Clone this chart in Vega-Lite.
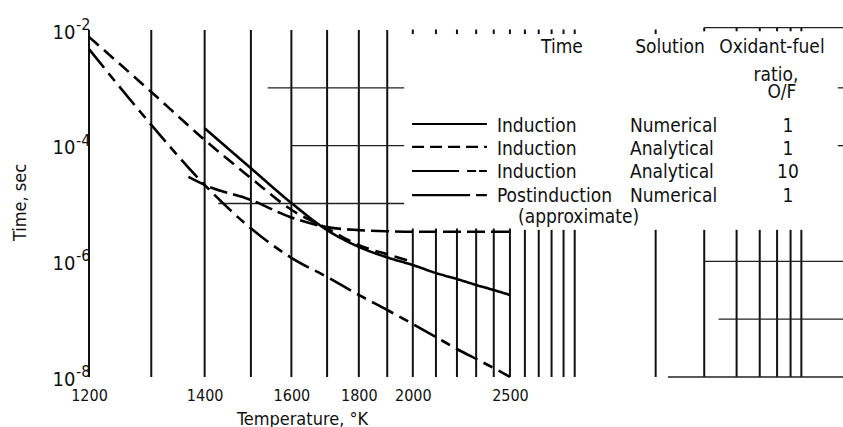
{
  "$schema": "https://vega.github.io/schema/vega-lite/v6.json",
  "width": 754,
  "height": 347,
  "autosize": {"type": "none"},
  "padding": {"left": 89, "top": 30, "right": 0, "bottom": 50},
  "background": "white",
  "config": {
    "view": {"stroke": null},
    "font": "DejaVu Sans Condensed",
    "axis": {"grid": false, "domain": false, "ticks": false, "labelColor": "#111", "titleColor": "#111", "titleFontWeight": "normal"}
  },
  "datasets": {
    "vgrid": [
      {"T": 1200, "t1": 1e-8, "t2": 1e-2}, {"T": 1300, "t1": 1e-8, "t2": 1e-2},
      {"T": 1400, "t1": 1e-8, "t2": 1e-2}, {"T": 1500, "t1": 1e-8, "t2": 1e-2},
      {"T": 1600, "t1": 1e-8, "t2": 1e-2}, {"T": 1700, "t1": 1e-8, "t2": 1e-2},
      {"T": 1800, "t1": 1e-8, "t2": 1e-2}, {"T": 1900, "t1": 1e-8, "t2": 1e-2},
      {"T": 2000, "t1": 1e-8, "t2": 3.7e-6}, {"T": 2100, "t1": 1e-8, "t2": 3.7e-6},
      {"T": 2200, "t1": 1e-8, "t2": 3.7e-6}, {"T": 2300, "t1": 1e-8, "t2": 3.7e-6},
      {"T": 2400, "t1": 1e-8, "t2": 3.7e-6}, {"T": 2500, "t1": 1e-8, "t2": 3.7e-6},
      {"T": 2600, "t1": 1e-8, "t2": 3.5e-6}, {"T": 2700, "t1": 1e-8, "t2": 3.5e-6},
      {"T": 2800, "t1": 1e-8, "t2": 3.5e-6}, {"T": 2900, "t1": 1e-8, "t2": 3.5e-6},
      {"T": 3000, "t1": 1e-8, "t2": 3.5e-6},
      {"T": 4000, "t1": 1e-8, "t2": 3.5e-6}, {"T": 5000, "t1": 1e-8, "t2": 3.5e-6},
      {"T": 6000, "t1": 1e-8, "t2": 3.5e-6}, {"T": 7000, "t1": 1e-8, "t2": 3.5e-6},
      {"T": 8000, "t1": 1e-8, "t2": 3.5e-6}, {"T": 9000, "t1": 1e-8, "t2": 3.5e-6},
      {"T": 10000, "t1": 1e-8, "t2": 3.5e-6},
      {"T": 2000, "t1": 8.5e-3, "t2": 1.02e-2}, {"T": 2100, "t1": 8.5e-3, "t2": 1.02e-2},
      {"T": 2200, "t1": 8.5e-3, "t2": 1.02e-2}, {"T": 2300, "t1": 8.5e-3, "t2": 1.02e-2},
      {"T": 2400, "t1": 8.5e-3, "t2": 1.02e-2}, {"T": 2500, "t1": 8.5e-3, "t2": 1.02e-2},
      {"T": 2600, "t1": 8.5e-3, "t2": 1.02e-2}, {"T": 2700, "t1": 8.5e-3, "t2": 1.02e-2},
      {"T": 2800, "t1": 8.5e-3, "t2": 1.02e-2}, {"T": 2900, "t1": 8.5e-3, "t2": 1.02e-2},
      {"T": 3000, "t1": 8.5e-3, "t2": 1.02e-2}, {"T": 4000, "t1": 8.5e-3, "t2": 1.02e-2},
      {"T": 5000, "t1": 9.5e-3, "t2": 1.1e-2}, {"T": 6000, "t1": 9.5e-3, "t2": 1.1e-2},
      {"T": 7000, "t1": 9.5e-3, "t2": 1.1e-2}, {"T": 8000, "t1": 9.5e-3, "t2": 1.1e-2},
      {"T": 9000, "t1": 9.5e-3, "t2": 1.1e-2}, {"T": 10000, "t1": 9.5e-3, "t2": 1.1e-2}
    ],
    "hgrid": [
      {"t": 1e-3, "T1": 1540, "T2": 1965}, {"t": 1e-3, "T1": 16000, "T2": 17500},
      {"t": 1e-4, "T1": 1600, "T2": 1965}, {"t": 1e-4, "T1": 16000, "T2": 17500},
      {"t": 1e-5, "T1": 1428, "T2": 1965},
      {"t": 1e-6, "T1": 5000, "T2": 17500},
      {"t": 1e-7, "T1": 5400, "T2": 17500},
      {"t": 1e-8, "T1": 4213, "T2": 17500},
      {"t": 1.1e-2, "T1": 5000, "T2": 17500}
    ],
    "curves": [
      {"series": "Induction Numerical 1", "T": 1400, "t": 2.0e-4},
      {"series": "Induction Numerical 1", "T": 1500, "t": 4.07e-5},
      {"series": "Induction Numerical 1", "T": 1600, "t": 1.02e-5},
      {"series": "Induction Numerical 1", "T": 1700, "t": 3.47e-6},
      {"series": "Induction Numerical 1", "T": 1800, "t": 1.78e-6},
      {"series": "Induction Numerical 1", "T": 1900, "t": 1.17e-6},
      {"series": "Induction Numerical 1", "T": 2000, "t": 8.63e-7},
      {"series": "Induction Numerical 1", "T": 2100, "t": 6.28e-7},
      {"series": "Induction Numerical 1", "T": 2200, "t": 4.94e-7},
      {"series": "Induction Numerical 1", "T": 2300, "t": 3.9e-7},
      {"series": "Induction Numerical 1", "T": 2400, "t": 3.19e-7},
      {"series": "Induction Numerical 1", "T": 2500, "t": 2.62e-7},
      {"series": "Induction Analytical 1", "T": 1200, "t": 7.6e-3},
      {"series": "Induction Analytical 1", "T": 1300, "t": 8.5e-4},
      {"series": "Induction Analytical 1", "T": 1400, "t": 1.26e-4},
      {"series": "Induction Analytical 1", "T": 1500, "t": 2.75e-5},
      {"series": "Induction Analytical 1", "T": 1600, "t": 7.8e-6},
      {"series": "Induction Analytical 1", "T": 1700, "t": 3.7e-6},
      {"series": "Induction Analytical 1", "T": 1800, "t": 1.9e-6},
      {"series": "Induction Analytical 1", "T": 1900, "t": 1.32e-6},
      {"series": "Induction Analytical 1", "T": 2000, "t": 9.8e-7},
      {"series": "Induction Analytical 10", "T": 1200, "t": 4.68e-3},
      {"series": "Induction Analytical 10", "T": 1300, "t": 2.29e-4},
      {"series": "Induction Analytical 10", "T": 1400, "t": 2.09e-5},
      {"series": "Induction Analytical 10", "T": 1500, "t": 3.72e-6},
      {"series": "Induction Analytical 10", "T": 1600, "t": 1.15e-6},
      {"series": "Induction Analytical 10", "T": 1700, "t": 5.36e-7},
      {"series": "Induction Analytical 10", "T": 1800, "t": 2.62e-7},
      {"series": "Induction Analytical 10", "T": 1900, "t": 1.44e-7},
      {"series": "Induction Analytical 10", "T": 2000, "t": 8.24e-8},
      {"series": "Induction Analytical 10", "T": 2100, "t": 4.91e-8},
      {"series": "Induction Analytical 10", "T": 2200, "t": 3.05e-8},
      {"series": "Induction Analytical 10", "T": 2300, "t": 2.05e-8},
      {"series": "Induction Analytical 10", "T": 2400, "t": 1.43e-8},
      {"series": "Induction Analytical 10", "T": 2500, "t": 1.0e-8},
      {"series": "Postinduction Numerical 1", "T": 1368, "t": 2.88e-5},
      {"series": "Postinduction Numerical 1", "T": 1400, "t": 2.09e-5},
      {"series": "Postinduction Numerical 1", "T": 1500, "t": 1.15e-5},
      {"series": "Postinduction Numerical 1", "T": 1600, "t": 5.75e-6},
      {"series": "Postinduction Numerical 1", "T": 1700, "t": 3.9e-6},
      {"series": "Postinduction Numerical 1", "T": 1800, "t": 3.47e-6},
      {"series": "Postinduction Numerical 1", "T": 1900, "t": 3.31e-6},
      {"series": "Postinduction Numerical 1", "T": 2000, "t": 3.24e-6},
      {"series": "Postinduction Numerical 1", "T": 2200, "t": 3.24e-6},
      {"series": "Postinduction Numerical 1", "T": 2500, "t": 3.24e-6}
    ],
    "keylines": [
      {"series": "Induction Numerical 1", "T": 1997, "t": 2.37e-4},
      {"series": "Induction Numerical 1", "T": 2360, "t": 2.37e-4},
      {"series": "Induction Analytical 1", "T": 1997, "t": 9.5e-5},
      {"series": "Induction Analytical 1", "T": 2360, "t": 9.5e-5},
      {"series": "Induction Analytical 10", "T": 1997, "t": 3.65e-5},
      {"series": "Induction Analytical 10", "T": 2360, "t": 3.65e-5},
      {"series": "Postinduction Numerical 1", "T": 1997, "t": 1.40e-5},
      {"series": "Postinduction Numerical 1", "T": 2360, "t": 1.40e-5}
    ],
    "keyleft": [
      {"label": "Induction", "T": 2419, "t": 1.72e-4},
      {"label": "Induction", "T": 2419, "t": 6.9e-5},
      {"label": "Induction", "T": 2419, "t": 2.76e-5},
      {"label": "Postinduction", "T": 2419, "t": 1.06e-5},
      {"label": "(approximate)", "T": 2553, "t": 4.6e-6},
      {"label": "Numerical", "T": 3617, "t": 1.72e-4},
      {"label": "Analytical", "T": 3617, "t": 6.9e-5},
      {"label": "Analytical", "T": 3617, "t": 2.76e-5},
      {"label": "Numerical", "T": 3617, "t": 1.06e-5}
    ],
    "keycenter": [
      {"label": "Time", "T": 2886, "t": 4.0e-3},
      {"label": "Solution", "T": 4250, "t": 4.0e-3},
      {"label": "Oxidant-fuel", "T": 7673, "t": 4.0e-3},
      {"label": "ratio,", "T": 7923, "t": 1.31e-3},
      {"label": "O/F", "T": 8331, "t": 6.67e-4},
      {"label": "1", "T": 8784, "t": 1.72e-4},
      {"label": "1", "T": 8784, "t": 6.9e-5},
      {"label": "10", "T": 8784, "t": 2.76e-5},
      {"label": "1", "T": 8784, "t": 1.06e-5}
    ],
    "exponents": [
      {"T": 1200, "t": 1e-2, "exp": "-2"},
      {"T": 1200, "t": 1e-4, "exp": "-4"},
      {"T": 1200, "t": 1e-6, "exp": "-6"},
      {"T": 1200, "t": 1e-8, "exp": "-8"}
    ]
  },
  "layer": [
    {
      "data": {"name": "vgrid"},
      "mark": {"type": "rule", "color": "#111", "strokeWidth": 2},
      "encoding": {
        "x": {"field": "T", "type": "quantitative",
          "scale": {"type": "pow", "exponent": -1, "domain": [1200, 17500], "zero": false, "nice": false},
          "axis": {"values": [1200, 1400, 1600, 1800, 2000, 2500], "format": "d", "labelFontSize": 16, "labelPadding": 10, "labelFlush": false,
            "title": "Temperature, °K", "titleFontSize": 18, "titleX": 213, "titleY": 47, "titleBaseline": "alphabetic", "titleAlign": "center"}},
        "y": {"field": "t1", "type": "quantitative",
          "scale": {"type": "log", "domain": [1e-8, 1e-2]},
          "axis": {"values": [1e-2, 1e-4, 1e-6, 1e-8], "labelExpr": "'10'", "labelFontSize": 20, "labelAlign": "right", "labelPadding": 14, "labelBaseline": "alphabetic", "labelOffset": 8,
            "title": "Time, sec", "titleFontSize": 18, "titleX": -64, "titleY": 172, "titleAngle": 270, "titleBaseline": "alphabetic", "titleAlign": "center"}},
        "y2": {"field": "t2"}
      }
    },
    {
      "data": {"name": "hgrid"},
      "mark": {"type": "rule", "color": "#222", "strokeWidth": 1.3},
      "encoding": {
        "x": {"field": "T1", "type": "quantitative", "scale": {"type": "pow", "exponent": -1, "domain": [1200, 17500], "zero": false, "nice": false}},
        "x2": {"field": "T2"},
        "y": {"field": "t", "type": "quantitative", "scale": {"type": "log", "domain": [1e-8, 1e-2]}}
      }
    },
    {
      "data": {"name": "curves"},
      "mark": {"type": "line", "color": "#000", "strokeWidth": 2.6, "interpolate": "monotone"},
      "encoding": {
        "x": {"field": "T", "type": "quantitative", "scale": {"type": "pow", "exponent": -1, "domain": [1200, 17500], "zero": false, "nice": false}},
        "y": {"field": "t", "type": "quantitative", "scale": {"type": "log", "domain": [1e-8, 1e-2]}},
        "strokeDash": {"field": "series", "type": "nominal", "legend": null,
          "scale": {"domain": ["Induction Numerical 1", "Induction Analytical 1", "Induction Analytical 10", "Postinduction Numerical 1"],
            "range": [[1, 0], [13, 7], [24, 7, 10, 7], [18, 6]]}}
      }
    },
    {
      "data": {"name": "keylines"},
      "mark": {"type": "line", "color": "#000", "strokeWidth": 2.2},
      "encoding": {
        "x": {"field": "T", "type": "quantitative", "scale": {"type": "pow", "exponent": -1, "domain": [1200, 17500], "zero": false, "nice": false}},
        "y": {"field": "t", "type": "quantitative", "scale": {"type": "log", "domain": [1e-8, 1e-2]}},
        "strokeDash": {"field": "series", "type": "nominal", "legend": null,
          "scale": {"domain": ["Induction Numerical 1", "Induction Analytical 1", "Induction Analytical 10", "Postinduction Numerical 1"],
            "range": [[1, 0], [12, 6], [47, 8, 9, 3], [58, 6]]}}
      }
    },
    {
      "data": {"name": "keyleft"},
      "mark": {"type": "text", "align": "left", "baseline": "alphabetic", "fontSize": 19, "color": "#111"},
      "encoding": {
        "x": {"field": "T", "type": "quantitative", "scale": {"type": "pow", "exponent": -1, "domain": [1200, 17500], "zero": false, "nice": false}},
        "y": {"field": "t", "type": "quantitative", "scale": {"type": "log", "domain": [1e-8, 1e-2]}},
        "text": {"field": "label"}
      }
    },
    {
      "data": {"name": "keycenter"},
      "mark": {"type": "text", "align": "center", "baseline": "alphabetic", "fontSize": 19, "color": "#111"},
      "encoding": {
        "x": {"field": "T", "type": "quantitative", "scale": {"type": "pow", "exponent": -1, "domain": [1200, 17500], "zero": false, "nice": false}},
        "y": {"field": "t", "type": "quantitative", "scale": {"type": "log", "domain": [1e-8, 1e-2]}},
        "text": {"field": "label"}
      }
    },
    {
      "data": {"name": "exponents"},
      "mark": {"type": "text", "align": "left", "baseline": "alphabetic", "fontSize": 16, "dx": -13, "dy": 0, "color": "#111"},
      "encoding": {
        "x": {"field": "T", "type": "quantitative", "scale": {"type": "pow", "exponent": -1, "domain": [1200, 17500], "zero": false, "nice": false}},
        "y": {"field": "t", "type": "quantitative", "scale": {"type": "log", "domain": [1e-8, 1e-2]}},
        "text": {"field": "exp"}
      }
    }
  ],
  "resolve": {"scale": {"strokeDash": "independent"}}
}
